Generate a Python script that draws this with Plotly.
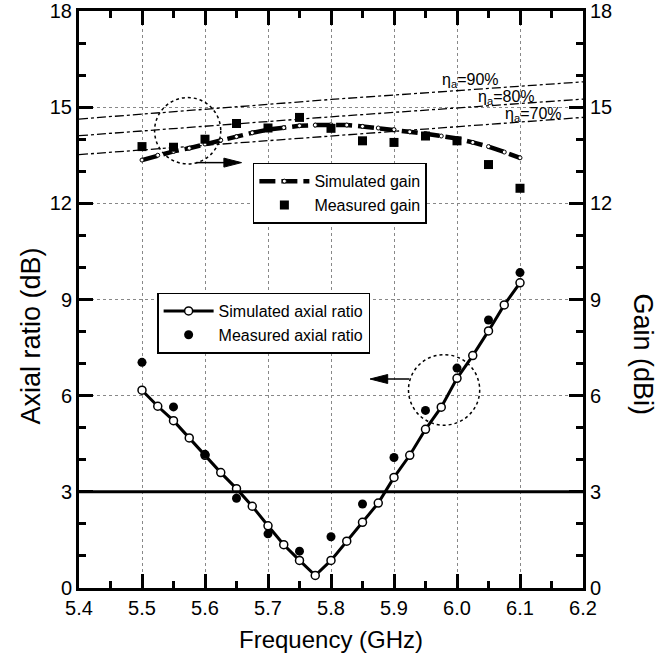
import plotly.graph_objects as go

# ---------------- data ----------------
freq_sim_ar = [5.5, 5.525, 5.55, 5.575, 5.6, 5.625, 5.65, 5.675, 5.7, 5.725, 5.75, 5.775,
               5.8, 5.825, 5.85, 5.875, 5.9, 5.925, 5.95, 5.975, 6.0, 6.025, 6.05, 6.075, 6.1]
sim_ar = [6.17, 5.67, 5.22, 4.68, 4.14, 3.60, 3.10, 2.55, 1.94, 1.35, 0.86, 0.39,
          0.86, 1.46, 2.05, 2.65, 3.45, 4.14, 4.95, 5.64, 6.54, 7.25, 8.02, 8.83, 9.52]

freq_meas = [5.5, 5.55, 5.6, 5.65, 5.7, 5.75, 5.8, 5.85, 5.9, 5.95, 6.0, 6.05, 6.1]
meas_ar = [7.04, 5.65, 4.17, 2.80, 1.69, 1.15, 1.60, 2.62, 4.07, 5.54, 6.86, 8.36, 9.84]
meas_gain = [13.77, 13.75, 14.00, 14.49, 14.35, 14.68, 14.34, 13.95, 13.90, 14.10, 13.95, 13.21, 12.47]

freq_sim_gain = freq_sim_ar
sim_gain = [13.35, 13.50, 13.62, 13.72, 13.85, 13.97, 14.08, 14.20, 14.30, 14.36, 14.42, 14.44,
            14.45, 14.44, 14.40, 14.35, 14.30, 14.23, 14.17, 14.10, 14.02, 13.90, 13.77, 13.60, 13.42]

freq_eff = [5.4, 5.8, 6.2]
eff_90 = [14.63, 15.24, 15.79]
eff_80 = [14.11, 14.70, 15.25]
eff_70 = [13.52, 14.11, 14.68]
eff_labels = ["η<sub>a</sub>=90%", "η<sub>a</sub>=80%", "η<sub>a</sub>=70%"]
eff_label_x = [6.022, 6.079, 6.121]
eff_label_y = [15.84, 15.30, 14.78]

x_title = "Frequency (GHz)"
y_title = "Axial ratio (dB)"
y2_title = "Gain (dBi)"

x_range = [5.4, 6.2]
y_range = [0, 18]
ar_limit = 3

FONT = "Arial, Liberation Sans, sans-serif"

fig = go.Figure()

# Efficiency reference lines (gain axis)
for vals in (eff_90, eff_80, eff_70):
    fig.add_trace(go.Scatter(x=freq_eff, y=vals, yaxis="y2", mode="lines",
                             line=dict(color="black", width=1.3, dash="dashdot"),
                             showlegend=False, hoverinfo="skip"))

# Gain traces
fig.add_trace(go.Scatter(x=freq_sim_gain, y=sim_gain, yaxis="y2", mode="lines+markers",
                         name="Simulated gain",
                         line=dict(color="black", width=4.5, dash="16px,6px"),
                         marker=dict(symbol="circle", size=4, color="white",
                                     line=dict(color="black", width=1)),
                         legend="legend"))
fig.add_trace(go.Scatter(x=freq_meas, y=meas_gain, yaxis="y2", mode="markers",
                         name="Measured gain",
                         marker=dict(symbol="square", size=9, color="black"),
                         legend="legend"))

# Axial ratio traces
fig.add_trace(go.Scatter(x=freq_sim_ar, y=sim_ar, mode="lines+markers",
                         name="Simulated axial ratio",
                         line=dict(color="black", width=3),
                         marker=dict(symbol="circle", size=8, color="white",
                                     line=dict(color="black", width=1.5)),
                         legend="legend2"))
fig.add_trace(go.Scatter(x=freq_meas, y=meas_ar, mode="markers",
                         name="Measured axial ratio",
                         marker=dict(symbol="circle", size=9, color="black"),
                         legend="legend2"))

# 3 dB line
fig.add_shape(type="line", xref="paper", x0=0, x1=1, yref="y", y0=ar_limit, y1=ar_limit,
              line=dict(color="black", width=3))

# dotted circles
fig.add_shape(type="circle", xref="x", yref="y", x0=5.52, x1=5.625, y0=13.23, y1=15.3,
              line=dict(color="black", width=1.5, dash="dot"))
fig.add_shape(type="circle", xref="x", yref="y", x0=5.923, x1=6.036, y0=5.08, y1=7.28,
              line=dict(color="black", width=1.5, dash="dot"))

# arrows (shaft + filled head)
fig.add_shape(type="line", xref="x", yref="y", x0=5.586, x1=5.635, y0=13.27, y1=13.27,
              line=dict(color="black", width=1.5))
fig.add_shape(type="path", xref="x", yref="y",
              path="M 5.658 13.27 L 5.630 13.41 L 5.630 13.13 Z",
              fillcolor="black", line=dict(color="black", width=1))
fig.add_shape(type="line", xref="x", yref="y", x0=5.885, x1=5.924, y0=6.52, y1=6.52,
              line=dict(color="black", width=1.5))
fig.add_shape(type="path", xref="x", yref="y",
              path="M 5.862 6.52 L 5.890 6.66 L 5.890 6.38 Z",
              fillcolor="black", line=dict(color="black", width=1))

# efficiency labels
for t, lx, ly in zip(eff_labels, eff_label_x, eff_label_y):
    fig.add_annotation(x=lx, y=ly, xref="x", yref="y", text=t, showarrow=False,
                       font=dict(family=FONT, size=16, color="black"))

# axis titles (placed as in the reference)
fig.add_annotation(x=0.5, y=-0.089, xref="paper", yref="paper", text=x_title,
                   showarrow=False, xanchor="center", yanchor="middle",
                   font=dict(family=FONT, size=24, color="black"))
fig.add_annotation(x=-0.095, y=0.436, xref="paper", yref="paper", text=y_title,
                   showarrow=False, xanchor="center", yanchor="middle", textangle=-90,
                   font=dict(family=FONT, size=27, color="black"))
fig.add_annotation(x=1.12, y=0.404, xref="paper", yref="paper", text=y2_title,
                   showarrow=False, xanchor="center", yanchor="middle", textangle=90,
                   font=dict(family=FONT, size=27, color="black"))

axis_common = dict(showline=True, linecolor="black", linewidth=3,
                   ticks="inside", ticklen=14, tickwidth=2.5, tickcolor="black",
                   tickfont=dict(family=FONT, size=20, color="black"),
                   zeroline=False, automargin=False)

fig.update_layout(
    width=659, height=660,
    margin=dict(l=79, r=76, t=11, b=72),
    plot_bgcolor="white", paper_bgcolor="white",
    font=dict(family=FONT, color="black"),
    xaxis=dict(range=x_range, dtick=0.1, tick0=5.4, tickformat=".1f",
               mirror="ticks", showgrid=True, gridcolor="#888", griddash="dot", gridwidth=1,
               minor=dict(dtick=0.05, ticks="inside", ticklen=7, tickwidth=2.5, tickcolor="black"),
               **axis_common),
    yaxis=dict(range=y_range, dtick=3, tick0=0,
               showgrid=True, gridcolor="#888", griddash="dot", gridwidth=1,
               minor=dict(dtick=1, ticks="inside", ticklen=7, tickwidth=2.5, tickcolor="black"),
               **axis_common),
    yaxis2=dict(range=y_range, dtick=3, tick0=0, overlaying="y", side="right",
                showgrid=False,
                minor=dict(dtick=1, ticks="inside", ticklen=7, tickwidth=2.5, tickcolor="black"),
                **axis_common),
    legend=dict(x=0.345, y=0.737, xanchor="left", yanchor="top",
                bgcolor="white", bordercolor="black", borderwidth=1.5,
                font=dict(family=FONT, size=16, color="black"), itemwidth=50,
                tracegroupgap=0),
    legend2=dict(x=0.155, y=0.512, xanchor="left", yanchor="top",
                 bgcolor="white", bordercolor="black", borderwidth=1.5,
                 font=dict(family=FONT, size=16, color="black"), itemwidth=50,
                 tracegroupgap=0),
)

fig.write_html("out.html", config={"displayModeBar": False},
               post_script="document.body.style.margin='0';")
